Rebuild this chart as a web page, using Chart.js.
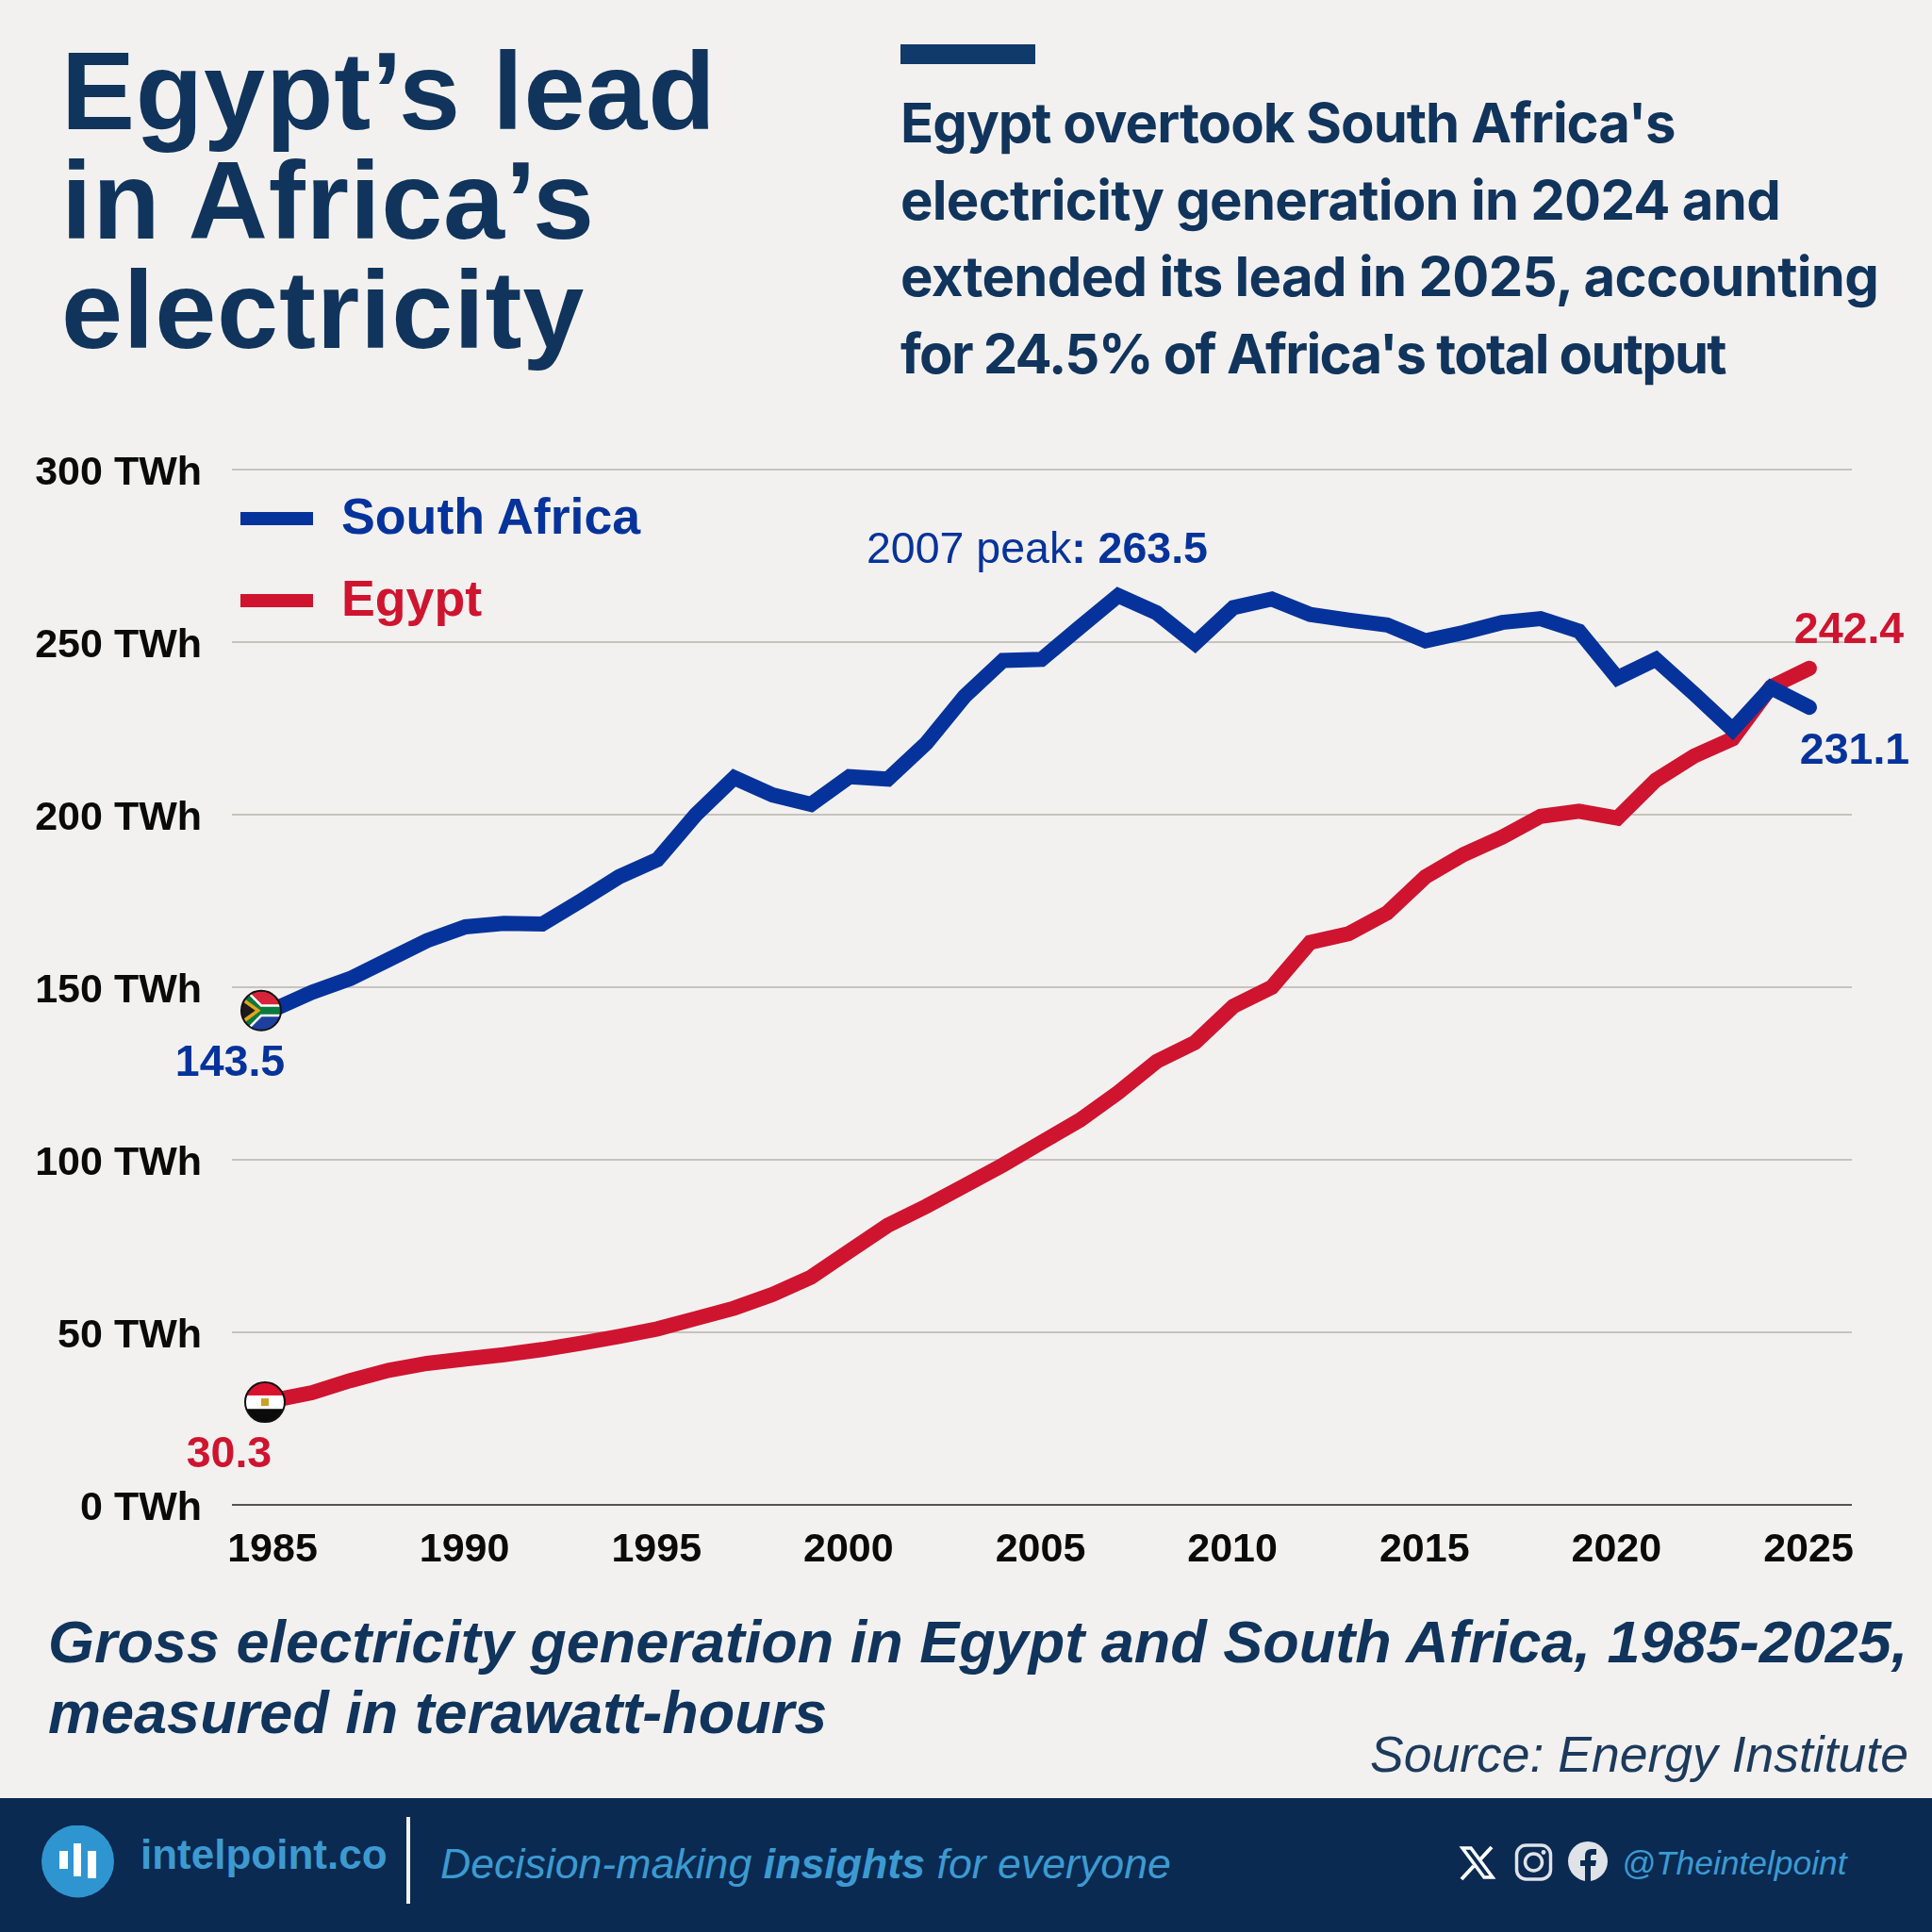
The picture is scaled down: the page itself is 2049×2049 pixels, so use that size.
<!DOCTYPE html>
<html>
<head>
<meta charset="utf-8">
<title>Egypt's lead in Africa's electricity</title>
<script src="https://cdn.jsdelivr.net/npm/chart.js@4"></script>
<style>
  html, body { margin: 0; padding: 0; }
  body { width: 2049px; height: 2049px; position: relative; overflow: hidden; background: #f3f1ef; font-family: 'Liberation Sans', sans-serif; }
  canvas { position: absolute; left: 0; top: 0; }
  .t { position: absolute; white-space: pre; }
  #title { left: 65px; top: 39px; font-size: 117px; line-height: 116px; font-weight: 700; letter-spacing: 0.8px; color: #10345c; }
  #bar { position: absolute; left: 955px; top: 47px; width: 143px; height: 21px; background: #0f3a69; }
  #lede { left: 955px; top: 90px; font-family: Inter, sans-serif; font-size: 58px; line-height: 81.5px; font-weight: 700; letter-spacing: -1px; color: #10345c; }
  #sub { left: 51px; top: 1704px; font-size: 63px; line-height: 75px; font-weight: 700; font-style: italic; color: #10345c; }
  #source { right: 25px; top: 1831px; font-size: 53.5px; line-height: 60px; font-style: italic; color: #1c3a5c; }
  .legend-line { position: absolute; left: 255px; width: 77px; height: 14px; }
  .legend-text { left: 362px; font-size: 53.7px; line-height: 60px; font-weight: 700; }
  #footer { position: absolute; left: 0; top: 1907px; width: 2049px; height: 142px; background: #0a2a52; }
  #logo { position: absolute; left: 43px; top: 1936px; }
  #site { left: 149px; top: 1942px; font-size: 44px; line-height: 50px; font-weight: 700; color: #3d9ad1; }
  #divider { position: absolute; left: 431px; top: 1927px; width: 4px; height: 92px; background: #f3f1ef; }
  #tag { left: 467px; top: 1952px; font-size: 44.7px; line-height: 50px; font-style: italic; color: #3d9ad1; }
  #handle { left: 1720px; top: 1954px; font-size: 35.4px; line-height: 44px; font-style: italic; color: #3d9ad1; }
  #social { position: absolute; left: 1545px; top: 1952px; }
</style>
</head>
<body>
<canvas id="chart" width="2049" height="2049"></canvas>

<div class="t" id="title">Egypt’s lead
in Africa’s
electricity</div>
<div id="bar"></div>
<div class="t" id="lede">Egypt overtook South Africa's
<span style="letter-spacing:-0.73px">electricity generation in 2024 and</span>
<span style="letter-spacing:-0.68px">extended its lead in 2025, accounting</span>
<span style="letter-spacing:-1.76px">for 24.5% of Africa's total output</span></div>

<div class="legend-line" style="top:543px;background:#06339b"></div>
<div class="t legend-text" style="top:517px;color:#06339b">South Africa</div>
<div class="legend-line" style="top:630px;background:#cf1430"></div>
<div class="t legend-text" style="top:604px;color:#cf1430">Egypt</div>

<div class="t" id="sub">Gross electricity generation in Egypt and South Africa, 1985-2025,
measured in terawatt-hours</div>
<div class="t" id="source">Source: Energy Institute</div>

<div id="footer"></div>
<svg id="logo" width="78" height="78" viewBox="0 0 78 78">
  <circle cx="39.5" cy="38" r="38.5" fill="#2f95d0"/>
  <rect x="20" y="27" width="9" height="19" fill="#fff"/>
  <rect x="35" y="19" width="8" height="35" fill="#fff"/>
  <rect x="50" y="27" width="9" height="29" fill="#fff"/>
</svg>
<div class="t" id="site">intelpoint.co</div>
<div id="divider"></div>
<div class="t" id="tag">Decision-making <b>insights</b> for everyone</div>
<svg id="social" width="170" height="46" viewBox="0 0 170 46">
  <path d="M6 8 L15 8 L38 39 L29 39 Z" fill="none" stroke="#fff" stroke-width="3.5"/>
  <path d="M37 7 L24 21 M18 27 L5 41" stroke="#fff" stroke-width="4"/>
  <rect x="63.5" y="5" width="36" height="36" rx="10" fill="none" stroke="#dfe3e8" stroke-width="3.5"/>
  <circle cx="81.5" cy="23" r="9" fill="none" stroke="#dfe3e8" stroke-width="3.5"/>
  <circle cx="92" cy="12.5" r="2.4" fill="#dfe3e8"/>
  <circle cx="139" cy="22" r="21" fill="#dfe3e8"/>
  <path d="M136 43 V27 H131 V21 H136 V16 Q136 9 143 9 H148 V15 H144 Q142 15 142 17 V21 H148 L147 27 H142 V43 Z" fill="#0a2a52"/>
</svg>
<div class="t" id="handle">@Theintelpoint</div>

<script>
const years = [1985, 1986, 1987, 1988, 1989, 1990, 1991, 1992, 1993, 1994, 1995, 1996, 1997, 1998,
    1999, 2000, 2001, 2002, 2003, 2004, 2005, 2006, 2007, 2008, 2009, 2010, 2011, 2012, 2013, 2014,
    2015, 2016, 2017, 2018, 2019, 2020, 2021, 2022, 2023, 2024, 2025];

const southAfrica = [143.5, 148.5, 152.5, 158, 163.5, 167.5, 168.5, 168.3, 175, 182, 187, 200, 210.7, 205.7,
    203, 211, 210.3, 220.7, 234.3, 244.7, 245, 254.3, 263.5, 258.5, 249.6, 260, 262.5, 258, 256.4, 255,
    250.4, 252.8, 255.7, 256.8, 253.2, 239.6, 245, 235, 224.6, 236.8, 231.1];

const egypt = [30.3, 32.5, 36, 39, 41, 42.3, 43.5, 45, 46.8, 48.8, 51, 54, 57, 61,
    66, 73.5, 81, 86.5, 92.5, 98.5, 105, 111.5, 119.5, 128.5, 134, 144.5, 150, 163, 165.5, 171.5,
    182, 188.5, 193.5, 199.5, 201, 199, 210, 217, 222, 237, 242.4];

const xTicks = [1985, 1990, 1995, 2000, 2005, 2010, 2015, 2020, 2025];
const yTicks = [0, 50, 100, 150, 200, 250, 300];

const BLUE = '#06339b';
const RED = '#cf1430';
const FONT = "'Liberation Sans', sans-serif";

// value labels and flags, placed from the chart scales
const annotations = {
    id: 'annotations',
    afterDatasetsDraw(chart) {
        const { ctx, scales: { x, y } } = chart;
        const last = years.length - 1;
        const peak = southAfrica.indexOf(Math.max(...southAfrica));

        const label = (text, px, py, color, align) => {
            ctx.fillStyle = color;
            ctx.textAlign = align || 'center';
            ctx.textBaseline = 'alphabetic';
            ctx.fillText(text, px, py);
        };

        ctx.save();
        ctx.font = `700 46.5px ${FONT}`;
        label(southAfrica[0].toFixed(1), x.getPixelForValue(years[0]) - 46, y.getPixelForValue(southAfrica[0]) + 70, BLUE);
        label(egypt[0].toFixed(1), x.getPixelForValue(years[0]) - 47, y.getPixelForValue(egypt[0]) + 71, RED);
        label(egypt[last].toFixed(1), x.getPixelForValue(years[last]) + 42, y.getPixelForValue(egypt[last]) - 27, RED);
        label(southAfrica[last].toFixed(1), x.getPixelForValue(years[last]) + 48, y.getPixelForValue(southAfrica[last]) + 60, BLUE);

        // 2007 peak, regular then bold
        const peakX = x.getPixelForValue(years[peak]) - 267;
        const peakY = y.getPixelForValue(southAfrica[peak]) - 35;
        ctx.font = `400 46.5px ${FONT}`;
        const head = years[peak] + ' peak';
        label(head, peakX, peakY, BLUE, 'left');
        const headW = ctx.measureText(head).width;
        ctx.font = `700 46.5px ${FONT}`;
        label(': ' + southAfrica[peak].toFixed(1), peakX + headW, peakY, BLUE, 'left');

        drawSouthAfricaFlag(ctx, x.getPixelForValue(years[0]) - 13, y.getPixelForValue(southAfrica[0]) + 1, 21);
        drawEgyptFlag(ctx, x.getPixelForValue(years[0]) - 9, y.getPixelForValue(egypt[0]) + 2, 21);
        ctx.restore();
    }
};

function flagClip(ctx, cx, cy, r) {
    ctx.beginPath();
    ctx.arc(cx, cy, r, 0, Math.PI * 2);
    ctx.clip();
}

function flagRing(ctx, cx, cy, r) {
    ctx.beginPath();
    ctx.arc(cx, cy, r, 0, Math.PI * 2);
    ctx.lineWidth = 2;
    ctx.strokeStyle = '#111';
    ctx.stroke();
}

function drawSouthAfricaFlag(ctx, cx, cy, r) {
    const stroke = (color, w) => {
        ctx.strokeStyle = color;
        ctx.lineWidth = w;
        ctx.beginPath();
        ctx.moveTo(cx - r * 1.1, cy - r);
        ctx.lineTo(cx - r * 0.1, cy);
        ctx.lineTo(cx - r * 1.1, cy + r);
        ctx.moveTo(cx - r * 0.1, cy);
        ctx.lineTo(cx + r * 1.1, cy);
        ctx.stroke();
    };
    ctx.save();
    flagClip(ctx, cx, cy, r);
    ctx.fillStyle = '#d8243a';
    ctx.fillRect(cx - r, cy - r, r * 2, r);
    ctx.fillStyle = '#1d3f9e';
    ctx.fillRect(cx - r, cy, r * 2, r);
    stroke('#fff', r * 0.62);
    stroke('#0a7a3d', r * 0.38);
    ctx.fillStyle = '#e2a51f';
    ctx.beginPath();
    ctx.moveTo(cx - r, cy - r * 0.72);
    ctx.lineTo(cx - r * 0.02, cy);
    ctx.lineTo(cx - r, cy + r * 0.72);
    ctx.fill();
    ctx.fillStyle = '#1c1c1c';
    ctx.beginPath();
    ctx.moveTo(cx - r, cy - r * 0.5);
    ctx.lineTo(cx - r * 0.3, cy);
    ctx.lineTo(cx - r, cy + r * 0.5);
    ctx.fill();
    ctx.restore();
    flagRing(ctx, cx, cy, r);
}

function drawEgyptFlag(ctx, cx, cy, r) {
    ctx.save();
    flagClip(ctx, cx, cy, r);
    ctx.fillStyle = '#d8122e';
    ctx.fillRect(cx - r, cy - r, r * 2, r * 0.68);
    ctx.fillStyle = '#fff';
    ctx.fillRect(cx - r, cy - r * 0.34, r * 2, r * 0.68);
    ctx.fillStyle = '#0b0b0b';
    ctx.fillRect(cx - r, cy + r * 0.34, r * 2, r * 0.68);
    ctx.fillStyle = '#c9a227';
    ctx.fillRect(cx - 4, cy - 4, 8, 8);
    ctx.restore();
    flagRing(ctx, cx, cy, r);
}

new Chart(document.getElementById('chart'), {
    type: 'line',
    data: {
        datasets: [
            {
                label: 'South Africa',
                data: years.map((yr, i) => ({ x: yr, y: southAfrica[i] })),
                borderColor: BLUE,
                order: 1
            },
            {
                label: 'Egypt',
                data: years.map((yr, i) => ({ x: yr, y: egypt[i] })),
                borderColor: RED,
                order: 2
            }
        ]
    },
    options: {
        responsive: false,
        devicePixelRatio: 1,
        animation: false,
        layout: { padding: { left: 0, right: 85, top: 498, bottom: 0 } },
        elements: {
            line: { borderWidth: 16, tension: 0, borderCapStyle: 'round', borderJoinStyle: 'miter' },
            point: { radius: 0 }
        },
        plugins: {
            legend: { display: false },
            tooltip: { enabled: false }
        },
        scales: {
            x: {
                type: 'linear',
                min: 1983.92,
                max: 2026.105,
                afterBuildTicks: (axis) => { axis.ticks = xTicks.map(v => ({ value: v })); },
                afterFit: (axis) => { axis.height = 453; },
                grid: { display: false },
                border: { display: false },
                ticks: {
                    autoSkip: false,
                    maxRotation: 0,
                    padding: 14,
                    labelOffset: -1,
                    color: '#0a0a0a',
                    font: { family: FONT, size: 43, weight: '700' },
                    callback: (v) => String(v)
                }
            },
            y: {
                min: 0,
                max: 300,
                afterBuildTicks: (axis) => { axis.ticks = yTicks.map(v => ({ value: v })); },
                afterFit: (axis) => { axis.width = 246; },
                grid: {
                    drawTicks: false,
                    lineWidth: 2,
                    color: (c) => c.tick.value === 0 ? '#55534f' : '#c6c3be'
                },
                border: { display: false },
                ticks: {
                    padding: 32,
                    labelOffset: 4,
                    color: '#0a0a0a',
                    font: { family: FONT, size: 43, weight: '700' },
                    callback: (v) => v + ' TWh'
                }
            }
        }
    },
    plugins: [annotations]
});
</script>
</body>
</html>
